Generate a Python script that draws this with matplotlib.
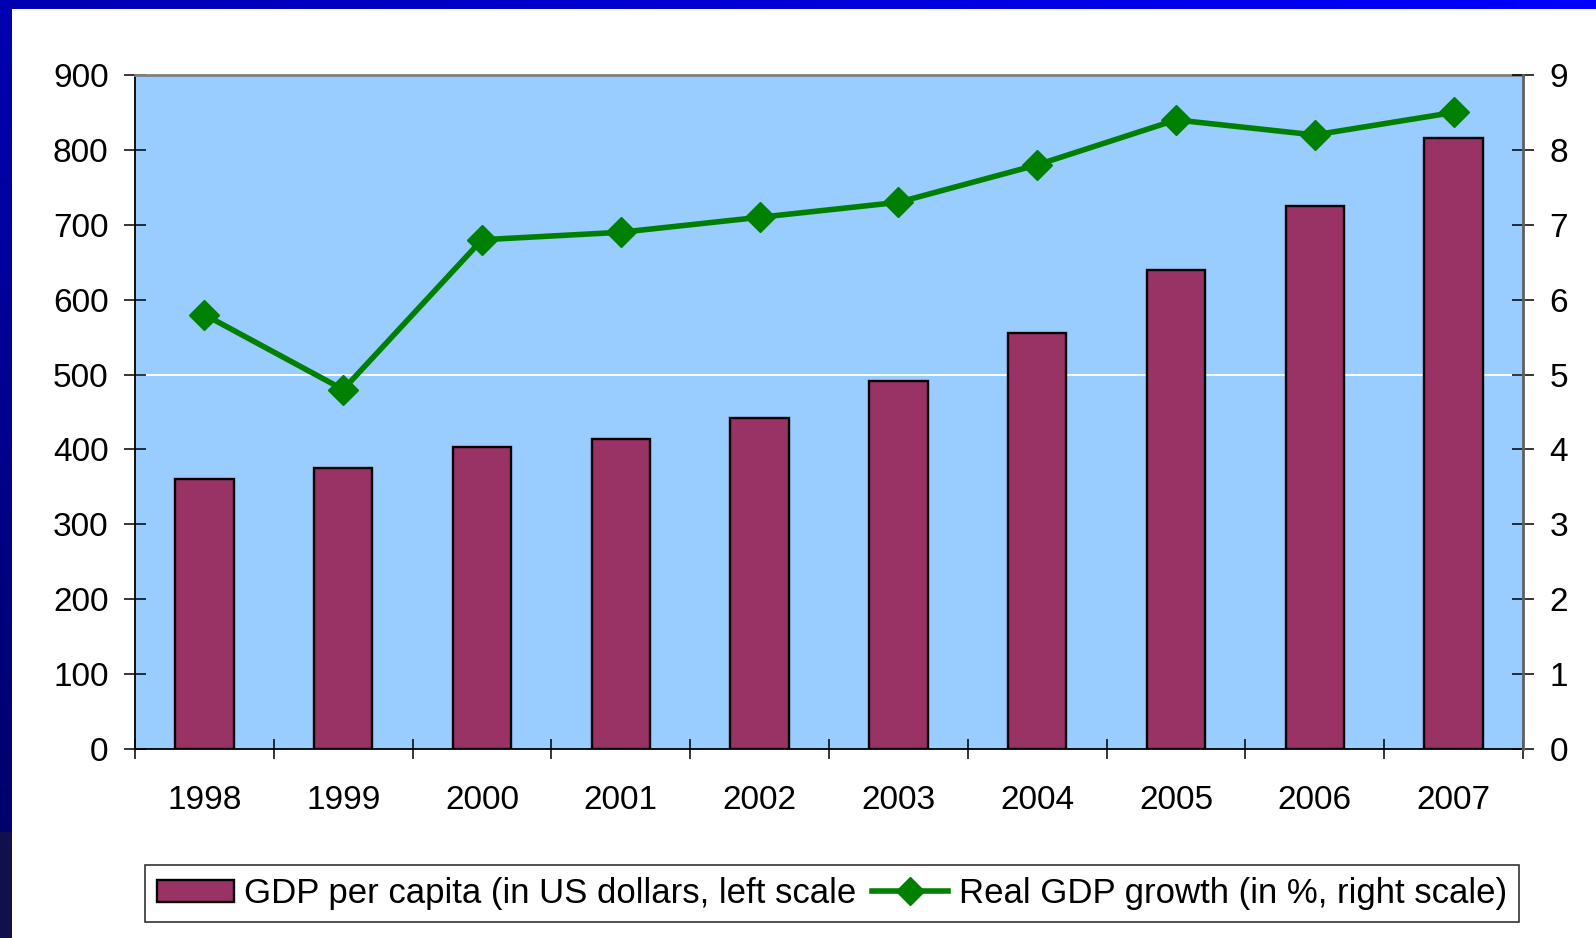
import numpy as np
import matplotlib
matplotlib.use("Agg")
import matplotlib.pyplot as plt
from matplotlib.patches import Patch
from matplotlib.lines import Line2D

plt.rcParams['font.family'] = ['Liberation Sans', 'DejaVu Sans']

years = ['1998', '1999', '2000', '2001', '2002', '2003', '2004', '2005', '2006', '2007']
gdp_per_capita = [360, 375, 403, 414, 442, 491, 555, 639, 725, 816]
real_growth = [5.8, 4.8, 6.8, 6.9, 7.1, 7.3, 7.8, 8.4, 8.2, 8.5]

bar_label = 'GDP per capita (in US dollars, left scale'
line_label = 'Real GDP growth (in %, right scale)'

W, H = 1596, 938
fig = plt.figure(figsize=(W / 100, H / 100), dpi=100)
fig.patch.set_facecolor('white')

# slide frame: blue strip on top and dark strip on the left
bg = fig.add_axes([0, 0, 1, 1], zorder=-10)
bg.set_xlim(0, W)
bg.set_ylim(H, 0)
bg.axis('off')
top_grad = np.linspace(0, 1, 256)
top_cols = np.stack([np.zeros(256), np.zeros(256), 0.69 + 0.31 * top_grad], axis=1)
bg.imshow(top_cols[np.newaxis, :, :], extent=[0, W, 9, 0], aspect='auto')
yy = np.linspace(0, 1, 256)
left_cols = np.zeros((256, 3))
left_cols[:, 2] = 0.70 - 0.32 * yy
low = yy > 0.89
left_cols[low] = [0.07, 0.06, 0.30]
bg.imshow(left_cols[:, np.newaxis, :], extent=[0, 12, H, 0], aspect='auto')

ax = fig.add_axes([135 / W, 1 - 749 / H, (1523 - 135) / W, (749 - 75) / H])
ax.set_facecolor('#99CCFF')
x = np.arange(len(years))

ax.axhline(500, color='white', lw=1.3, zorder=1)
ax.bar(x, gdp_per_capita, width=0.42, color='#993366', edgecolor='black',
       linewidth=1.7, zorder=2)
ax.set_xlim(-0.5, len(years) - 0.5)
ax.set_ylim(0, 900)
ax.set_yticks(np.arange(0, 901, 100))
ax.set_xticks(x)
ax.set_xticklabels(years)
ax.set_xticks(np.arange(-0.5, len(years), 1), minor=True)
ax.tick_params(axis='x', which='major', length=0, pad=26, labelsize=24)
ax.tick_params(axis='x', which='minor', direction='inout', length=15, width=1.1)
ax.tick_params(axis='y', direction='inout', length=16, width=1.1, pad=11, labelsize=24)

for s in ['left', 'bottom']:
    ax.spines[s].set_color('black')
    ax.spines[s].set_linewidth(1.3)
ax.spines['top'].set_color('#808080')
ax.spines['top'].set_linewidth(2)
ax.spines['right'].set_visible(False)

ax2 = ax.twinx()
ax2.plot(x, real_growth, color='#008000', lw=4, marker='D', markersize=15,
         markeredgecolor='#008000', zorder=3)
ax2.set_ylim(0, 9)
ax2.set_yticks(np.arange(0, 10, 1))
ax2.tick_params(axis='y', direction='inout', length=16, width=1.1, pad=11, labelsize=24)
ax2.spines['right'].set_color('#606060')
ax2.spines['right'].set_linewidth(2)
for s in ['left', 'top', 'bottom']:
    ax2.spines[s].set_visible(False)

handles = [Patch(facecolor='#993366', edgecolor='black', linewidth=1.7),
           Line2D([0], [0], color='#008000', lw=4, marker='D', markersize=14)]
leg = fig.legend(handles, [bar_label, line_label], loc='center', ncol=2,
                 bbox_to_anchor=((146 + 1518) / 2 / W, 1 - 893.5 / H),
                 fontsize=25, frameon=True, fancybox=False, edgecolor='black',
                 handlelength=2.2, handleheight=0.6, handletextpad=0.3,
                 columnspacing=0.45, borderpad=0.35)
leg.get_frame().set_linewidth(1.2)

fig.savefig('out.png', dpi=100)
